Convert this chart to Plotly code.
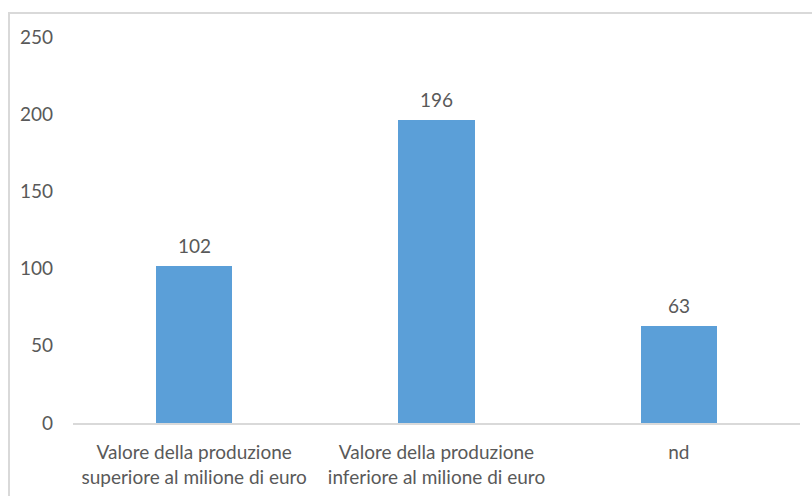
import plotly.graph_objects as go

# Numero di imprese per classe di valore della produzione
categories = [
    "Valore della produzione<br>superiore al milione di euro",
    "Valore della produzione<br>inferiore al milione di euro",
    "nd",
]
values = [102, 196, 63]
y_ticks = [0, 50, 100, 150, 200, 250]

W, H = 812, 496
FONT = "Lato, Calibri, 'Open Sans', sans-serif"
TEXT = "#595959"
SIZE = 19

fig = go.Figure(
    go.Bar(
        x=categories,
        y=values,
        width=0.314,
        marker=dict(color="#5B9FD8", line=dict(width=0)),
        hoverinfo="skip",
    )
)

# value labels above each bar
for c, v in zip(categories, values):
    fig.add_annotation(
        x=c, y=v, text=str(v), showarrow=False,
        xanchor="center", yanchor="bottom", yshift=7,
        font=dict(family=FONT, size=SIZE, color=TEXT),
    )

fig.update_layout(
    width=W,
    height=H,
    margin=dict(l=0, r=0, t=0, b=0),
    paper_bgcolor="white",
    plot_bgcolor="white",
    showlegend=False,
    font=dict(family=FONT, size=SIZE, color=TEXT),
    bargap=0,
    xaxis=dict(
        domain=[73 / W, 800 / W],
        showgrid=False,
        showline=True,
        linecolor="#d9d9d9",
        linewidth=2,
        ticks="",
        ticklabelstandoff=11,
        tickfont=dict(family=FONT, size=SIZE, color=TEXT),
        automargin=False,
        fixedrange=True,
    ),
    yaxis=dict(
        domain=[(H - 423) / H, (H - 37) / H],
        range=[0, 250],
        tickvals=y_ticks,
        showgrid=False,
        zeroline=False,
        showline=False,
        ticks="",
        ticklabelstandoff=19,
        tickfont=dict(family=FONT, size=SIZE, color=TEXT),
        automargin=False,
        fixedrange=True,
    ),
    shapes=[
        dict(
            type="rect",
            xref="paper",
            yref="paper",
            x0=9 / W,
            x1=1.05,
            y0=-0.05,
            y1=(H - 13) / H,
            line=dict(color="#d9d9d9", width=2),
            fillcolor="rgba(0,0,0,0)",
            layer="below",
        )
    ],
)

fig.write_html("out.html")
